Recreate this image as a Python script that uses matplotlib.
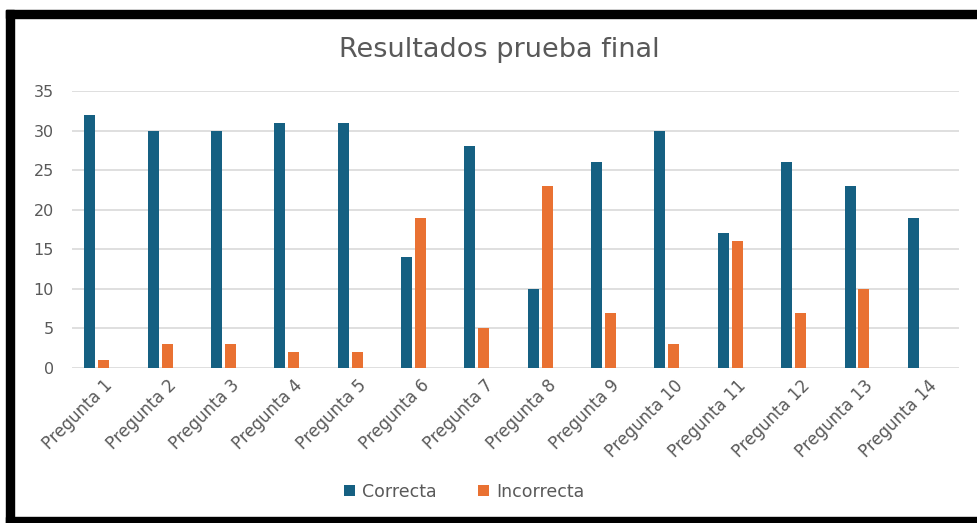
import numpy as np
import matplotlib.pyplot as plt
from matplotlib.patches import Rectangle

categories = [f"Pregunta {i}" for i in range(1, 15)]
correcta = [32, 30, 30, 31, 31, 14, 28, 10, 26, 30, 17, 26, 23, 19]
incorrecta = [1, 3, 3, 2, 2, 19, 5, 23, 7, 3, 16, 7, 10, 0]

BLUE = '#156082'
ORANGE = '#E97132'
GRAY = '#595959'

plt.rcParams['font.family'] = ['DejaVu Sans']

fig = plt.figure(figsize=(9.77, 5.23), dpi=100)
ax = fig.add_axes([0.0737, 0.2964, 0.9079, 0.5296])

x = np.arange(len(categories))
w = 0.174
ax.bar(x - 0.22, correcta, w, color=BLUE, label='Correcta', zorder=3)
ax.bar(x, incorrecta, w, color=ORANGE, label='Incorrecta', zorder=3)

ax.set_xlim(-0.5, len(categories) - 0.5)
ax.set_ylim(0, 35)
ax.set_yticks(range(0, 36, 5))
ax.grid(axis='y', color='#D9D9D9', linewidth=1.2, zorder=0)
for s in ax.spines.values():
    s.set_visible(False)
ax.tick_params(length=0, colors=GRAY, labelsize=11.5)
ax.tick_params(axis='x', labelsize=12, pad=6)
ax.tick_params(axis='y', pad=13)
ax.set_xticks(x)
ax.set_xticklabels(categories, rotation=45, ha='right', rotation_mode='anchor')

fig.text(0.511, 0.905, 'Resultados prueba final', ha='center', va='center',
         fontsize=19.5, color=GRAY)

ax.legend(loc='center', bbox_to_anchor=(0.442, -0.446), ncol=2, frameon=False,
          fontsize=12.5, labelcolor=GRAY, handlelength=0.65, handleheight=0.65,
          columnspacing=2.4, handletextpad=0.4)

# black frame round the screenshot
H = 523.0
Wd = 977.0
fig.patches.append(Rectangle((6 / Wd, 1 - 18 / H), 1, 8 / H, transform=fig.transFigure,
                             color='black', zorder=10))
fig.patches.append(Rectangle((6 / Wd, 0), 8 / Wd, 1 - 10 / H, transform=fig.transFigure,
                             color='black', zorder=10))
fig.patches.append(Rectangle((6 / Wd, 0), 1, 6 / H, transform=fig.transFigure,
                             color='black', zorder=10))

fig.savefig('out.png', dpi=100)
